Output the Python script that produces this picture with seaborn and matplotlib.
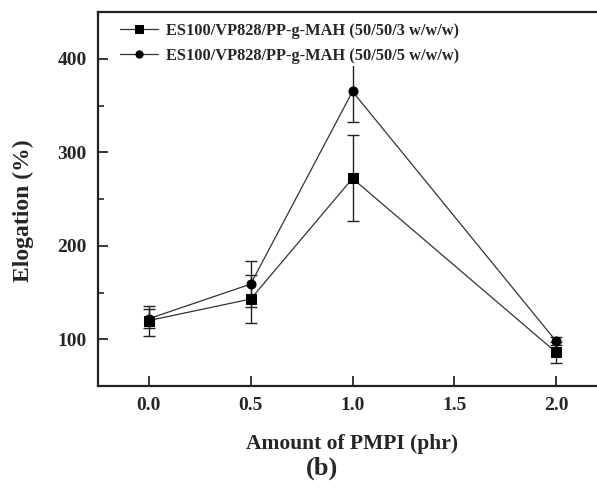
import numpy as np
import pandas as pd
import matplotlib
matplotlib.use("Agg")
import matplotlib.pyplot as plt
import seaborn as sns

# PMPI loading (phr)
pmpi = [0.0, 0.5, 1.0, 2.0]

# Elongation at break (%) and standard deviations for the two blends
elong_3 = [120, 143, 272, 86]
err_3 = [16, 26, 46, 11]
elong_5 = [122, 159, 365, 98]
err_5 = [10, 25, 33, 4]

series_names = ["ES100/VP828/PP-g-MAH (50/50/3 w/w/w)",
                "ES100/VP828/PP-g-MAH (50/50/5 w/w/w)"]

df = pd.DataFrame({
    "pmpi": pmpi * 2,
    "elong": elong_3 + elong_5,
    "err": err_3 + err_5,
    "blend": [series_names[0]] * 4 + [series_names[1]] * 4,
})

sns.set_style("ticks")
plt.rcParams["font.family"] = ["Liberation Serif", "DejaVu Serif"]
plt.rcParams["font.weight"] = "bold"

fig = plt.figure(figsize=(5.97, 4.92), dpi=100)
W, H = 597, 492
ax = fig.add_axes([98 / W, 1 - 386 / H, (607 - 98) / W, (386 - 12) / H])

# error bars first, so markers sit on top
for name, sub in df.groupby("blend", sort=False):
    ax.errorbar(sub["pmpi"], sub["elong"], yerr=sub["err"], fmt="none",
                ecolor="#222222", elinewidth=1.0, capsize=4, capthick=1.0,
                zorder=2)

sns.lineplot(data=df, x="pmpi", y="elong", hue="blend", style="blend",
             markers={series_names[0]: "s", series_names[1]: "o"},
             dashes=False, palette=["#333333", "#333333"],
             linewidth=0.9, markersize=6.5, markeredgecolor="black",
             markerfacecolor="black", ax=ax, zorder=3)

ax.set_xlim(-0.25, 2.25)
ax.set_ylim(50, 450)
ax.set_xticks([0.0, 0.5, 1.0, 1.5, 2.0])
ax.set_xticklabels(["0.0", "0.5", "1.0", "1.5", "2.0"])
ax.set_yticks([100, 200, 300, 400])
ax.set_yticks([150, 250, 350], minor=True)
ax.tick_params(axis="both", which="major", direction="in", length=7,
               width=1.3, labelsize=14, pad=8)
ax.tick_params(axis="y", which="minor", direction="in", length=4, width=1.2)
for lab in ax.get_xticklabels() + ax.get_yticklabels():
    lab.set_fontweight("bold")
for s in ax.spines.values():
    s.set_linewidth(1.6)
    s.set_color("#222222")

ax.set_xlabel("Amount of PMPI (phr)", fontsize=15.5, fontweight="bold",
              labelpad=14)
ax.set_ylabel("Elogation (%)", fontsize=17, fontweight="bold")
ax.yaxis.label.set_va("center")
ax.yaxis.set_label_coords((23 - 98) / 509, (386 - 211) / 374)

leg = ax.legend(loc="upper left", bbox_to_anchor=(0.022, 1.0),
                frameon=True, fontsize=11.8, handlelength=2.3,
                handletextpad=0.5, labelspacing=0.55, borderpad=0.15,
                markerscale=0.8)
leg.get_frame().set_edgecolor("none")
leg.get_frame().set_facecolor("white")
leg.get_frame().set_alpha(1)
for t in leg.get_texts():
    t.set_fontweight("bold")

fig.text(322 / W, 1 - 468 / H, "(b)", fontsize=19, fontweight="bold",
         ha="center", va="center")

fig.savefig("out.png", dpi=100)
